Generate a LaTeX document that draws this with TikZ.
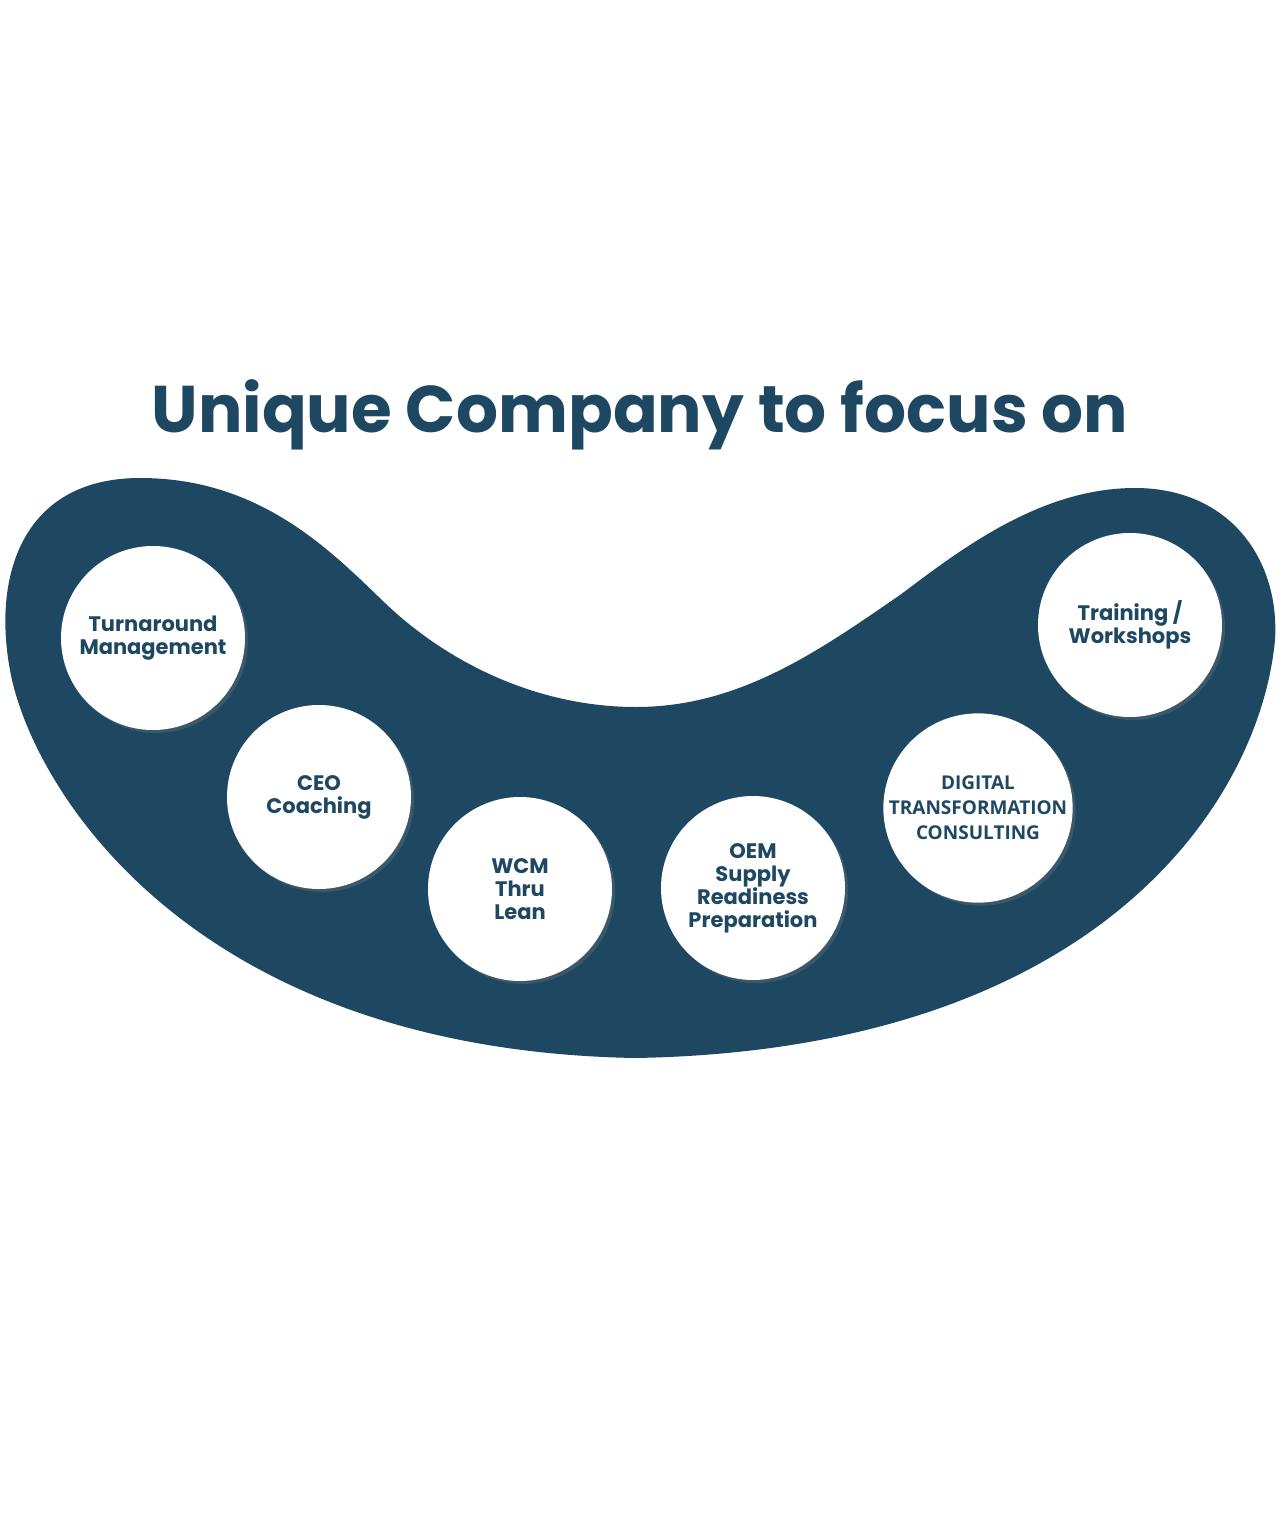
\documentclass[tikz,border=0pt]{standalone}
\usepackage{fontspec}
\setmainfont{Poppins}
\newfontfamily\osans{Open Sans}
\usetikzlibrary{shadows}
\definecolor{navy}{HTML}{1E4862}
\begin{document}
\begin{tikzpicture}[x=1pt,y=-1pt,
  circ/.style={circle,fill=white,minimum size=184pt,inner sep=0pt,align=center,text=navy,font=\fontsize{21}{23}\selectfont\bfseries,
    drop shadow={opacity=0.3,shadow xshift=3pt,shadow yshift=-3pt}}]
\useasboundingbox (0,0) rectangle (1280,1524);
\node[text=navy,font=\fontsize{66}{70}\selectfont\bfseries] (title) at (640,415) {Unique Company to focus on};
\fill[navy] (140,478) .. controls (260,478) and (330,550) .. (385,603)
 .. controls (450,665) and (540,707) .. (636,707)
 .. controls (740,707) and (820,650) .. (900,595)
 .. controls (960,550) and (1040,488) .. (1135,488)
 .. controls (1230,488) and (1280,560) .. (1275,640)
 .. controls (1260,800) and (1100,1050) .. (635,1058)
 .. controls (200,1050) and (40,800) .. (12,680)
 .. controls (-10,580) and (20,478) .. (140,478) -- cycle;
\node[circ] (a) at (153,638) {Turnaround\\Management};
\node[circ] (b) at (319,797) {CEO\\Coaching};
\node[circ] (c) at (520,889) {WCM\\Thru\\Lean};
\node[circ] (d) at (753,888) {OEM\\Supply\\Readiness\\Preparation};
\node[circ,font=\osans\fontsize{19}{25}\selectfont\bfseries] (e) at (978,808) {DIGITAL\\TRANSFORMATION\\CONSULTING};
\node[circ] (f) at (1130,625) {Training /\\Workshops};
\end{tikzpicture}
\end{document}
